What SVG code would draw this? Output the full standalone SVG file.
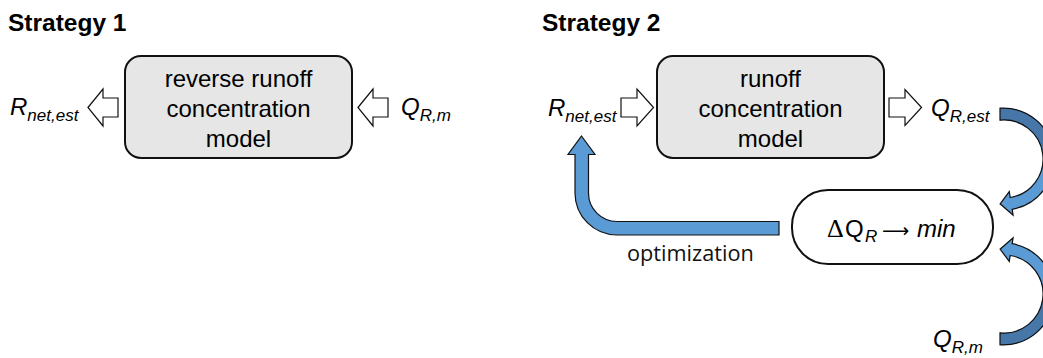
<svg xmlns="http://www.w3.org/2000/svg" width="1043" height="358" viewBox="0 0 1043 358">
  <style>
    .t { font-family: "Liberation Sans", Arial, sans-serif; font-size: 24px; fill: #000; }
    .title { font-family: "Liberation Sans", Arial, sans-serif; font-size: 24.5px; font-weight: bold; fill: #000; }
    .it { font-style: italic; }
    .sub { font-size: 17px; font-style: italic; }
    .box { fill: #e6e6e6; stroke: #111; stroke-width: 2; }
    .stad { fill: #fff; stroke: #111; stroke-width: 2; }
    .hollow { fill: #fff; stroke: #111; stroke-width: 1.2; stroke-linejoin: miter; }
    .blue { fill: #5b9bd5; stroke: none; }
    .dark { fill: #4677a8; stroke: none; }
    .outline { fill: none; stroke: #111; stroke-width: 1.2; stroke-linejoin: miter; }
    .opt { font-family: "Open Sans", "DejaVu Sans", sans-serif; font-size: 21.7px; fill: #111; }
  </style>
  <defs>
    <!-- curved arrow, centre (1004,159), outer r 51, inner r 39 -->
    <path id="curvedFill" d="M1000,108.2 A51,51 0 0 1 1012.2,209.3 L1013.1,215.3 L1000.1,203.8 L1009.3,191.6 L1010.2,197.5 A39,39 0 0 0 1000,120.2 Z"/>
    <path id="curvedDark" d="M1000,108.2 A51,51 0 0 1 1053.3,172.2 L1041.7,169.1 A39,39 0 0 0 1000,120.2 Z"/>
  </defs>

  <g id="title1"><text class="title" x="8" y="31">Strategy 1</text></g>
  <g id="title2"><text class="title" x="542" y="31">Strategy 2</text></g>

  <g id="box1">
    <rect class="box" x="125" y="56" width="227" height="102" rx="16"/>
    <text class="t" text-anchor="middle" x="238.5" y="86.5">reverse runoff</text>
    <text class="t" text-anchor="middle" x="238.5" y="117">concentration</text>
    <text class="t" text-anchor="middle" x="238.5" y="147">model</text>
  </g>

  <g id="label-R1"><text class="t it" x="10" y="115">R<tspan class="sub" dy="6">net,est</tspan></text></g>
  <g id="label-Q1"><text class="t it" x="401" y="115">Q<tspan class="sub" dy="6">R,m</tspan></text></g>

  <g id="box2">
    <rect class="box" x="657" y="56" width="227" height="102" rx="16"/>
    <text class="t" text-anchor="middle" x="770.5" y="86.5">runoff</text>
    <text class="t" text-anchor="middle" x="770.5" y="117">concentration</text>
    <text class="t" text-anchor="middle" x="770.5" y="147">model</text>
  </g>

  <g id="label-R2"><text class="t it" x="548" y="116">R<tspan class="sub" dy="6">net,est</tspan></text></g>
  <g id="label-Q2"><text class="t it" x="931" y="116">Q<tspan class="sub" dy="6">R,est</tspan></text></g>
  <g id="label-Q3"><text class="t it" x="933" y="346.5">Q<tspan class="sub" dy="6">R,m</tspan></text></g>

  <g id="minimize">
    <rect class="stad" x="792" y="190" width="201" height="74" rx="36"/>
    <text class="t" y="237">
      <tspan x="827" font-family="'Liberation Serif', serif" font-size="26">Δ</tspan><tspan x="845">Q</tspan><tspan x="865" y="242" class="sub">R</tspan><tspan x="882" y="237" font-family="'DejaVu Sans', sans-serif" font-size="19">⟶</tspan><tspan x="917" y="237" class="it">min</tspan>
    </text>
  </g>

  <g id="label-opt"><text class="opt" x="627" y="261">optimization</text></g>

  <g id="connectors">
    <!-- strategy 1 hollow arrows -->
    <polygon class="hollow" points="88,107.5 103,89 103,98 118,98 118,117 103,117 103,126"/>
    <polygon class="hollow" points="358,107.5 373,89 373,98 388,98 388,117 373,117 373,126"/>
    <!-- strategy 2 hollow arrows -->
    <polygon class="hollow" points="653.5,107.5 637,89 637,98 621,98 621,117 637,117 637,126"/>
    <polygon class="hollow" points="921.5,107.5 905,89.5 905,98 889,98 889,117 905,117 905,125.5"/>
    <!-- optimization bent arrow -->
    <path d="M581.5,136 L595,154.5 L588.5,154.5 L588.5,193 A28.5,28.5 0 0 0 617,221.5 L779,221.5 L779,235 L617,235 A42,42 0 0 1 575,193 L575,154.5 L568,154.5 Z" fill="#5b9bd5" stroke="#111" stroke-width="1.2"/>
    <!-- curved arrow Q_R,est -> min -->
    <g id="curved-top">
      <use href="#curvedFill" class="blue"/>
      <use href="#curvedDark" class="dark"/>
      <use href="#curvedFill" class="outline"/>
    </g>
    <!-- curved arrow Q_R,m -> min (mirror) -->
    <g id="curved-bottom" transform="translate(0,453) scale(1,-1)">
      <use href="#curvedFill" class="blue"/>
      <use href="#curvedDark" class="dark"/>
      <use href="#curvedFill" class="outline"/>
    </g>
  </g>
</svg>
